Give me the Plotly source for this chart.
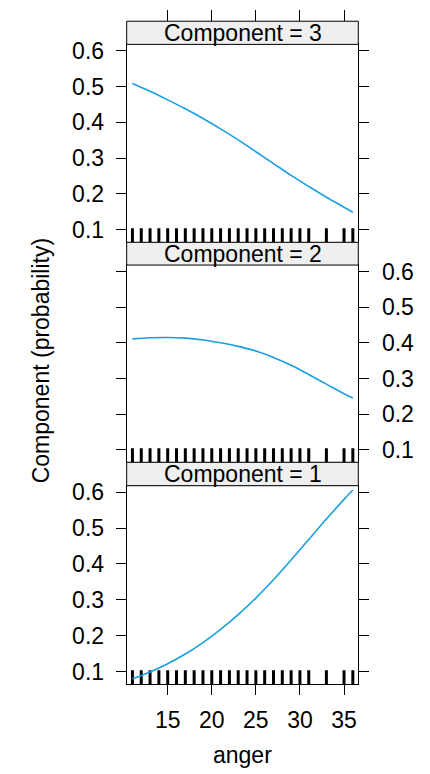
import plotly.graph_objects as go

# ---- data ----
anger = [11, 13, 15, 17, 19, 21, 23, 25, 27, 29, 31, 33, 35, 36]
comp1 = [0.080, 0.099, 0.122, 0.149, 0.181, 0.218, 0.259, 0.305, 0.356, 0.411, 0.468, 0.525, 0.580, 0.606]
comp2 = [0.411, 0.414, 0.415, 0.413, 0.408, 0.400, 0.390, 0.377, 0.359, 0.337, 0.311, 0.284, 0.257, 0.245]
comp3 = [0.509, 0.487, 0.463, 0.438, 0.411, 0.382, 0.351, 0.318, 0.285, 0.252, 0.221, 0.191, 0.163, 0.149]
rug_anger = list(range(11, 32)) + [33, 35, 36]
component_labels = ["Component = 1", "Component = 2", "Component = 3"]
x_ticks = [15, 20, 25, 30, 35]
y_ticks = [0.1, 0.2, 0.3, 0.4, 0.5, 0.6]
x_title = "anger"
y_title = "Component (probability)"

# ---- layout constants (page pixels in the 430x774 window) ----
OX, OY = 8, 12          # page offset of the figure (body margin)
W, H = 422, 762         # figure size
XL, XR = 126.7, 358.3
PANELS = [  # (strip_top, plot_top, plot_bottom) for component 1, 2, 3
    (464.0, 487.7, 688.3),
    (241.7, 264.7, 464.0),
    (18.3, 41.7, 241.7),
]
X_RANGE = [10.35, 36.62]
Y_RANGE = [0.065, 0.618]
RUG_H = 0.039
LINE_COL = "#1a9fe0"
FONT = "Liberation Sans, Arial, Helvetica, sans-serif"
FS = 23


def py(Y):
    return 1 - (Y - OY) / H


def px(X):
    return (X - OX) / W


fig = go.Figure()
series = [comp1, comp2, comp3]

rx, ry = [], []
for v in rug_anger:
    rx += [v, v, None]
    ry += [Y_RANGE[0], Y_RANGE[0] + RUG_H, None]

for i, vals in enumerate(series):
    sfx = "" if i == 0 else str(i + 1)
    fig.add_trace(go.Scatter(x=rx, y=ry, mode="lines", line=dict(color="black", width=3),
                             xaxis="x" + sfx, yaxis="y" + sfx, showlegend=False, hoverinfo="skip"))
    fig.add_trace(go.Scatter(x=anger, y=vals, mode="lines", line=dict(color=LINE_COL, width=1.6, shape="spline"),
                             xaxis="x" + sfx, yaxis="y" + sfx, showlegend=False))

# dummy trace to realise the top tick axis
fig.add_trace(go.Scatter(x=x_ticks, y=[None] * len(x_ticks), xaxis="x4", yaxis="y3",
                         showlegend=False, hoverinfo="skip"))

layout = dict(
    width=W, height=H, margin=dict(l=0, r=0, t=0, b=0),
    paper_bgcolor="white", plot_bgcolor="white",
    font=dict(family=FONT, size=FS, color="black"),
    showlegend=False,
)

shapes, annotations = [], []
for i, (st, pt, pb) in enumerate(PANELS):
    sfx = "" if i == 0 else str(i + 1)
    xa = dict(domain=[px(XL), px(XR)], range=X_RANGE, anchor="y" + sfx,
              showgrid=False, zeroline=False, showline=True, linecolor="black", linewidth=1,
              mirror=True, tickvals=x_ticks, fixedrange=True)
    if i == 0:
        xa.update(ticks="outside", ticklen=10, tickcolor="black", showticklabels=True,
                  tickfont=dict(size=FS), ticklabelstandoff=5)
    else:
        xa.update(ticks="", showticklabels=False)
    right = (i == 1)
    ya = dict(domain=[py(pb), py(pt)], range=Y_RANGE, anchor="x" + sfx,
              showgrid=False, zeroline=False, showline=True, linecolor="black", linewidth=1,
              mirror="ticks", ticks="outside", ticklen=10, tickcolor="black",
              tickvals=y_ticks, ticktext=[f"{t:.1f}" for t in y_ticks],
              side="right" if right else "left", tickfont=dict(size=FS),
              ticklabelstandoff=8 if right else 7, fixedrange=True)
    layout["xaxis" + sfx] = xa
    layout["yaxis" + sfx] = ya
    shapes.append(dict(type="rect", xref="paper", yref="paper", x0=px(XL), x1=px(XR),
                       y0=py(pt), y1=py(st), fillcolor="#efefef", line=dict(color="black", width=1),
                       layer="above"))
    annotations.append(dict(text=component_labels[i], xref="paper", yref="paper",
                            x=px((XL + XR) / 2), y=py((st + pt) / 2), showarrow=False,
                            xanchor="center", yanchor="middle", font=dict(size=FS)))

layout["xaxis4"] = dict(overlaying="x3", anchor="free", position=py(PANELS[2][0]), side="top",
                        range=X_RANGE, tickvals=x_ticks, ticks="outside", ticklen=11,
                        tickcolor="black", showticklabels=False, showline=False,
                        showgrid=False, zeroline=False, fixedrange=True)

annotations.append(dict(text=x_title, xref="paper", yref="paper", x=px((XL + XR) / 2), y=py(760),
                        showarrow=False, xanchor="center", yanchor="middle", font=dict(size=FS)))
annotations.append(dict(text=y_title, xref="paper", yref="paper", x=px(41), y=py(362),
                        showarrow=False, xanchor="center", yanchor="middle", textangle=-90,
                        font=dict(size=FS)))

layout["shapes"] = shapes
layout["annotations"] = annotations
fig.update_layout(**layout)
fig.write_html("out.html")
